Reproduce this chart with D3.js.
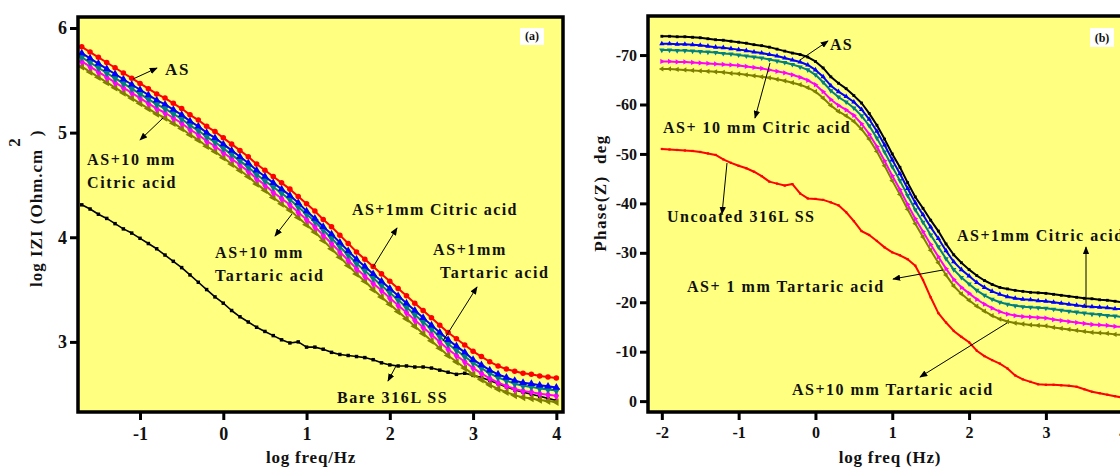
<!DOCTYPE html>
<html><head><meta charset="utf-8">
<script src="https://cdn.jsdelivr.net/npm/d3@7"></script>
<style>
body{margin:0;background:#fff;}
svg text{font-family:"Liberation Serif","Times New Roman",serif;font-weight:bold;fill:#111;}
</style></head><body>
<svg id="chart" width="1120" height="470"></svg>
<script>
// ---------- Panel (a): Bode modulus, log|Z| vs log f ----------
const freqA = [-1.7,-1.6,-1.5,-1.4,-1.3,-1.2,-1.1,-1.0,-0.9,-0.8,-0.7,-0.6,-0.5,-0.4,-0.3,-0.2,-0.1,0.0,0.1,0.2,0.3,0.4,0.5,0.6,0.7,0.8,0.9,1.0,1.1,1.2,1.3,1.4,1.5,1.6,1.7,1.8,1.9,2.0,2.1,2.2,2.3,2.4,2.5,2.6,2.7,2.8,2.9,3.0,3.1,3.2,3.3,3.4,3.5,3.6,3.7,3.8,3.9,4.0];
const zAS = [5.82,5.77,5.72,5.67,5.62,5.57,5.52,5.47,5.42,5.37,5.33,5.28,5.23,5.17,5.12,5.06,5.01,4.95,4.89,4.83,4.77,4.70,4.64,4.58,4.52,4.46,4.39,4.32,4.25,4.17,4.10,4.02,3.94,3.86,3.79,3.72,3.65,3.58,3.51,3.44,3.37,3.30,3.23,3.16,3.09,3.03,2.97,2.91,2.86,2.81,2.77,2.74,2.72,2.70,2.69,2.675,2.665,2.655];
const zCit1 = [5.76,5.71,5.66,5.61,5.56,5.51,5.46,5.41,5.36,5.31,5.27,5.22,5.17,5.11,5.06,5.00,4.95,4.89,4.83,4.77,4.71,4.64,4.58,4.52,4.46,4.40,4.33,4.25,4.18,4.10,4.03,3.95,3.87,3.79,3.72,3.65,3.58,3.51,3.44,3.37,3.30,3.23,3.16,3.09,3.02,2.96,2.90,2.83,2.78,2.73,2.69,2.66,2.63,2.61,2.60,2.585,2.575,2.565];
const zCit10 = [5.72,5.67,5.62,5.57,5.52,5.47,5.42,5.37,5.32,5.27,5.23,5.18,5.13,5.07,5.02,4.96,4.91,4.85,4.79,4.73,4.67,4.60,4.54,4.48,4.42,4.36,4.29,4.22,4.15,4.07,3.99,3.91,3.83,3.75,3.68,3.61,3.54,3.47,3.40,3.33,3.26,3.19,3.12,3.05,2.98,2.92,2.86,2.80,2.75,2.70,2.66,2.63,2.60,2.58,2.57,2.555,2.545,2.535];
const zTar1 = [5.68,5.63,5.58,5.53,5.48,5.43,5.38,5.33,5.28,5.23,5.19,5.14,5.09,5.03,4.98,4.92,4.87,4.81,4.75,4.69,4.63,4.56,4.50,4.43,4.37,4.31,4.24,4.17,4.10,4.02,3.94,3.86,3.78,3.70,3.63,3.56,3.49,3.42,3.35,3.28,3.21,3.14,3.07,3.00,2.93,2.87,2.81,2.75,2.70,2.65,2.61,2.58,2.55,2.53,2.52,2.505,2.495,2.485];
const zTar10 = [5.63,5.58,5.53,5.48,5.43,5.38,5.33,5.28,5.23,5.18,5.14,5.09,5.04,4.98,4.93,4.87,4.82,4.76,4.70,4.64,4.58,4.51,4.45,4.38,4.32,4.26,4.19,4.12,4.05,3.97,3.89,3.81,3.73,3.65,3.58,3.50,3.43,3.36,3.29,3.22,3.15,3.08,3.01,2.94,2.87,2.81,2.75,2.69,2.64,2.59,2.55,2.52,2.49,2.47,2.46,2.445,2.435,2.425];
const zBare = [4.31,4.27,4.22,4.18,4.13,4.08,4.04,3.99,3.94,3.89,3.83,3.77,3.71,3.64,3.57,3.50,3.43,3.37,3.30,3.24,3.19,3.14,3.10,3.06,3.02,2.99,3.00,2.95,2.95,2.93,2.90,2.88,2.87,2.86,2.85,2.83,2.80,2.78,2.77,2.77,2.76,2.76,2.75,2.73,2.71,2.69,2.70,2.68,2.66,2.63,2.60,2.57,2.54,2.52,2.50,2.48,2.46,2.44];
const ticksXA = [-1,0,1,2,3,4];
const ticksYA = [3,4,5,6];

// ---------- Panel (b): Bode phase vs log f ----------
const freqB = [-2.0,-1.9,-1.8,-1.7,-1.6,-1.5,-1.4,-1.3,-1.2,-1.1,-1.0,-0.9,-0.8,-0.7,-0.6,-0.5,-0.4,-0.3,-0.2,-0.1,0.0,0.1,0.2,0.3,0.4,0.5,0.6,0.7,0.8,0.9,1.0,1.1,1.2,1.3,1.4,1.5,1.6,1.7,1.8,1.9,2.0,2.1,2.2,2.3,2.4,2.5,2.6,2.7,2.8,2.9,3.0,3.1,3.2,3.3,3.4,3.5,3.6,3.7,3.8,3.9,4.0];
const pAS = [-73.8,-73.8,-73.7,-73.7,-73.6,-73.5,-73.3,-73.1,-73.0,-72.8,-72.6,-72.4,-72.1,-71.9,-71.6,-71.2,-70.8,-70.4,-70.1,-69.6,-68.7,-67.4,-65.6,-64.3,-63.2,-61.8,-60.3,-58.2,-55.8,-53.0,-50.0,-47.3,-44.2,-41.3,-39.0,-36.6,-34.4,-31.8,-29.6,-28.0,-26.6,-25.4,-24.4,-23.6,-23.0,-22.7,-22.4,-22.2,-22.0,-21.9,-21.8,-21.6,-21.4,-21.2,-21.0,-20.8,-20.7,-20.5,-20.4,-20.2,-20.0];
const pCit1 = [-72.3,-72.3,-72.2,-72.2,-72.1,-72.0,-71.8,-71.6,-71.5,-71.3,-71.1,-70.9,-70.6,-70.4,-70.1,-69.8,-69.4,-69.0,-68.6,-68.0,-67.0,-65.6,-63.8,-62.6,-61.6,-60.5,-59.0,-57.0,-54.6,-51.8,-48.8,-46.0,-43.0,-40.1,-37.7,-35.2,-32.9,-30.4,-28.2,-26.6,-25.3,-24.0,-23.0,-22.2,-21.6,-21.1,-20.8,-20.6,-20.5,-20.3,-20.2,-20.0,-19.8,-19.6,-19.4,-19.2,-19.1,-19.0,-18.9,-18.7,-18.6];
const pCit10 = [-71.0,-71.0,-70.9,-70.9,-70.8,-70.7,-70.6,-70.5,-70.3,-70.2,-70.0,-69.8,-69.6,-69.4,-69.1,-68.8,-68.5,-68.1,-67.6,-67.0,-66.0,-64.5,-62.8,-61.5,-60.5,-59.3,-57.7,-55.7,-53.2,-50.4,-47.4,-44.6,-41.6,-38.7,-36.2,-33.6,-31.2,-28.8,-26.6,-25.0,-23.7,-22.4,-21.4,-20.6,-20.0,-19.6,-19.3,-19.1,-19.0,-18.9,-18.8,-18.6,-18.4,-18.2,-18.0,-17.8,-17.6,-17.5,-17.3,-17.2,-17.0];
const pTar1 = [-68.7,-68.7,-68.6,-68.6,-68.5,-68.4,-68.3,-68.2,-68.1,-68.0,-67.9,-67.7,-67.5,-67.3,-67.0,-66.7,-66.4,-66.0,-65.5,-64.9,-64.0,-62.6,-61.0,-59.8,-58.9,-57.8,-56.1,-54.0,-51.5,-48.6,-45.6,-42.8,-39.8,-36.9,-34.3,-31.7,-29.2,-26.8,-24.6,-23.0,-21.8,-20.6,-19.6,-18.8,-18.1,-17.6,-17.3,-17.1,-17.0,-16.9,-16.8,-16.5,-16.3,-16.1,-15.9,-15.7,-15.5,-15.4,-15.3,-15.1,-15.0];
const pTar10 = [-67.2,-67.2,-67.1,-67.0,-66.9,-66.8,-66.7,-66.6,-66.5,-66.3,-66.2,-66.0,-65.8,-65.6,-65.4,-65.1,-64.8,-64.4,-64.0,-63.4,-62.6,-61.3,-59.8,-58.6,-57.7,-56.6,-55.0,-53.0,-50.5,-47.6,-44.6,-41.8,-38.8,-35.9,-33.2,-30.5,-28.0,-25.5,-23.3,-21.7,-20.4,-19.2,-18.2,-17.3,-16.6,-16.1,-15.8,-15.6,-15.4,-15.3,-15.2,-14.9,-14.7,-14.5,-14.3,-14.1,-13.9,-13.8,-13.7,-13.5,-13.4];
const pBare = [-51.0,-50.9,-50.8,-50.7,-50.6,-50.4,-50.1,-49.8,-48.9,-48.2,-47.6,-47.1,-46.4,-45.5,-44.4,-44.0,-43.6,-43.9,-42.0,-41.0,-40.9,-40.7,-40.2,-39.6,-38.2,-36.4,-34.4,-33.6,-32.4,-31.1,-30.1,-29.5,-28.7,-27.4,-24.5,-21.0,-17.8,-15.9,-14.2,-13.0,-11.9,-10.2,-9.1,-8.3,-7.6,-6.6,-5.2,-4.4,-3.9,-3.4,-3.3,-3.3,-3.2,-3.1,-2.9,-2.4,-1.9,-1.6,-1.3,-1.0,-0.7];
const ticksXB = [-2,-1,0,1,2,3,4];
const ticksYB = [0,-10,-20,-30,-40,-50,-60,-70];

const svg = d3.select("#chart");
const FONT = '"Liberation Serif","Times New Roman",serif';

// arrowhead used by the annotation pointers
const defs = svg.append("defs");
defs.append("marker").attr("id","arrowhead").attr("viewBox","0 0 10 8")
  .attr("refX",9).attr("refY",4).attr("markerWidth",8).attr("markerHeight",6.4)
  .attr("markerUnits","userSpaceOnUse").attr("orient","auto")
  .append("path").attr("d","M0,0 L10,4 L0,8 Z").attr("fill","#000");

function panel(opt){
  const g = svg.append("g");
  const x = d3.scaleLinear().domain(opt.xDomain).range([opt.left, opt.right]);
  const y = d3.scaleLinear().domain(opt.yDomain).range([opt.bottom, opt.top]);
  const clipId = "clip-" + opt.id;
  defs.append("clipPath").attr("id", clipId).append("rect")
    .attr("x", opt.left).attr("y", opt.top)
    .attr("width", opt.right - opt.left).attr("height", opt.bottom - opt.top);
  g.append("rect").attr("x", opt.left).attr("y", opt.top)
    .attr("width", opt.right - opt.left).attr("height", opt.bottom - opt.top)
    .attr("fill", "#ffff80");

  const plot = g.append("g").attr("clip-path", `url(#${clipId})`);
  opt.series.forEach(s => {
    const pts = s.freq.map((f,i) => [f, s.values[i]]);
    plot.append("path").datum(pts)
      .attr("fill","none").attr("stroke", s.color).attr("stroke-width", s.width || 2)
      .attr("stroke-linejoin","round")
      .attr("d", d3.line().x(d => x(d[0])).y(d => y(d[1])));
    if (s.symbol) {
      const sym = d3.symbol().type(s.symbol).size(s.size);
      plot.selectAll(null).data(pts).join("path")
        .attr("d", sym)
        .attr("transform", d => `translate(${x(d[0])},${y(d[1])}) rotate(${s.rotate || 0})`)
        .attr("fill", s.color);
    }
  });

  // axes with outward ticks
  const ax = g.append("g").attr("transform", `translate(0,${opt.bottom})`)
    .call(d3.axisBottom(x).tickValues(opt.xTicks).tickSize(8).tickSizeOuter(0)
      .tickPadding(opt.xPad).tickFormat(d3.format("d")));
  const ay = g.append("g").attr("transform", `translate(${opt.left},0)`)
    .call(d3.axisLeft(y).tickValues(opt.yTicks).tickSize(8).tickSizeOuter(0)
      .tickPadding(3).tickFormat(d3.format("d")));
  [ax, ay].forEach(a => {
    a.select(".domain").remove();
    a.selectAll(".tick line").attr("stroke","#000").attr("stroke-width",3);
    a.selectAll(".tick text").attr("font-family", FONT).attr("font-weight","bold")
      .attr("font-size", opt.tickFont).attr("fill","#111");
  });
  ax.selectAll(".tick text").text(d => d < 0 ? "-" + Math.abs(d) : d);
  ay.selectAll(".tick text").text(d => d < 0 ? "-" + Math.abs(d) : d);

  // frame
  g.append("rect").attr("x", opt.left).attr("y", opt.top)
    .attr("width", opt.right - opt.left).attr("height", opt.bottom - opt.top)
    .attr("fill","none").attr("stroke","#000").attr("stroke-width",3.5);

  // panel tag
  g.append("rect").attr("x", opt.tag.x).attr("y", opt.tag.y)
    .attr("width", opt.tag.w).attr("height", opt.tag.h).attr("fill","#fff");
  g.append("text").attr("x", opt.tag.x + opt.tag.w/2).attr("y", opt.tag.y + opt.tag.h - 5)
    .attr("text-anchor","middle").attr("font-size", 12).text(opt.tag.label);

  // annotations
  opt.notes.forEach(n => {
    const t = g.append("text").attr("x", n.x).attr("y", n.y)
      .attr("font-size", n.size || 16).attr("letter-spacing", n.ls == null ? opt.noteLs : n.ls);
    n.lines.forEach((line, i) => t.append("tspan").attr("x", n.x).attr("dy", i ? (n.lh || 23) : 0).text(line));
  });
  opt.arrows.forEach(a => {
    g.append("line").attr("x1", a[0]).attr("y1", a[1]).attr("x2", a[2]).attr("y2", a[3])
      .attr("stroke","#000").attr("stroke-width",1).attr("marker-end","url(#arrowhead)");
  });
  return {x, y, g};
}

// ----- panel (a) -----
panel({
  id: "a", left: 78, right: 563, top: 17, bottom: 412,
  xDomain: [-1.745, 4.08], yDomain: [2.33, 6.105],
  xTicks: ticksXA, yTicks: ticksYA, xPad: 7, tickFont: 18, noteLs: 1.6,
  series: [
    {freq: freqA, values: zBare, color: "#000", symbol: d3.symbolSquare, size: 12, width: 1.6},
    {freq: freqA, values: zTar10, color: "#808000", symbol: d3.symbolTriangle, size: 26, rotate: -90},
    {freq: freqA, values: zTar1, color: "#ff00ff", symbol: d3.symbolDiamond, size: 26},
    {freq: freqA, values: zCit10, color: "#008080", symbol: d3.symbolTriangle, size: 26, rotate: 180},
    {freq: freqA, values: zCit1, color: "#0000ff", symbol: d3.symbolTriangle, size: 26},
    {freq: freqA, values: zAS, color: "#ff0000", symbol: d3.symbolCircle, size: 24}
  ],
  tag: {x: 520, y: 28, w: 24, h: 17, label: "(a)"},
  notes: [
    {x: 165, y: 75, lines: ["AS"], size: 17},
    {x: 87, y: 165, lines: ["AS+10 mm", "Citric acid"]},
    {x: 352, y: 215, lines: ["AS+1mm Citric acid"], ls: 1.4},
    {x: 215, y: 258, lines: ["AS+10 mm", "Tartaric acid"]},
    {x: 433, y: 255, lines: ["AS+1mm"]},
    {x: 440, y: 278, lines: ["Tartaric acid"]},
    {x: 337, y: 403, lines: ["Bare 316L SS"]}
  ],
  arrows: [
    [133, 79, 157, 68],
    [163, 118, 140, 140],
    [373, 267, 397, 228],
    [292, 214, 275, 236],
    [443, 341, 477, 287],
    [396, 366, 388, 381]
  ]
});

// ----- panel (b) -----
panel({
  id: "b", left: 648, right: 1130, top: 16, bottom: 412,
  xDomain: [-2.18, 4.095], yDomain: [2.2, -77.9],
  xTicks: ticksXB, yTicks: ticksYB, xPad: 7, tickFont: 16, noteLs: 1.5,
  series: [
    {freq: freqB, values: pBare, color: "#ff0000", symbol: d3.symbolSquare, size: 5, width: 2},
    {freq: freqB, values: pTar10, color: "#808000", symbol: d3.symbolTriangle, size: 12, rotate: -90, width: 2},
    {freq: freqB, values: pTar1, color: "#ff00ff", symbol: d3.symbolTriangle, size: 12, rotate: 90, width: 2},
    {freq: freqB, values: pCit10, color: "#008080", symbol: d3.symbolTriangle, size: 12, rotate: 180, width: 2},
    {freq: freqB, values: pCit1, color: "#0000ff", symbol: d3.symbolTriangle, size: 12, width: 2},
    {freq: freqB, values: pAS, color: "#000", symbol: d3.symbolSquare, size: 8, width: 2}
  ],
  tag: {x: 1090, y: 28, w: 24, h: 19, label: "(b)"},
  notes: [
    {x: 830, y: 50, lines: ["AS"], ls: 1.2},
    {x: 663, y: 133, lines: ["AS+ 10 mm Citric acid"]},
    {x: 667, y: 222, lines: ["Uncoated 316L SS"]},
    {x: 957, y: 241, lines: ["AS+1mm Citric acid"]},
    {x: 687, y: 292, lines: ["AS+ 1 mm Tartaric acid"]},
    {x: 792, y: 395, lines: ["AS+10 mm Tartaric acid"]}
  ],
  arrows: [
    [800, 60, 828, 41],
    [770, 63, 755, 118],
    [727, 163, 722, 214],
    [1086, 308, 1086, 247],
    [943, 270, 893, 279],
    [1007, 323, 920, 377]
  ]
});

// axis titles
svg.append("text").attr("x", 311).attr("y", 463).attr("text-anchor","middle")
  .attr("font-size", 17).attr("letter-spacing", 0.8).text("log freq/Hz");
svg.append("text").attr("x", 890).attr("y", 463).attr("text-anchor","middle")
  .attr("font-size", 17).attr("letter-spacing", 0.8).text("log freq (Hz)");

const yl = svg.append("text").attr("transform","translate(42,287) rotate(-90)")
  .attr("font-size", 17).attr("letter-spacing", 1);
yl.append("tspan").text("log IZI (Ohm.cm");
yl.append("tspan").attr("dx", 2).attr("dy", -22).text("2");
yl.append("tspan").attr("dx", 1).attr("dy", 22).text(")");

svg.append("text").attr("transform","translate(606,193) rotate(-90)")
  .attr("text-anchor","middle").attr("font-size", 17).attr("letter-spacing", 1.4)
  .attr("xml:space","preserve").text("Phase(Z)  deg");
</script>
</body></html>
